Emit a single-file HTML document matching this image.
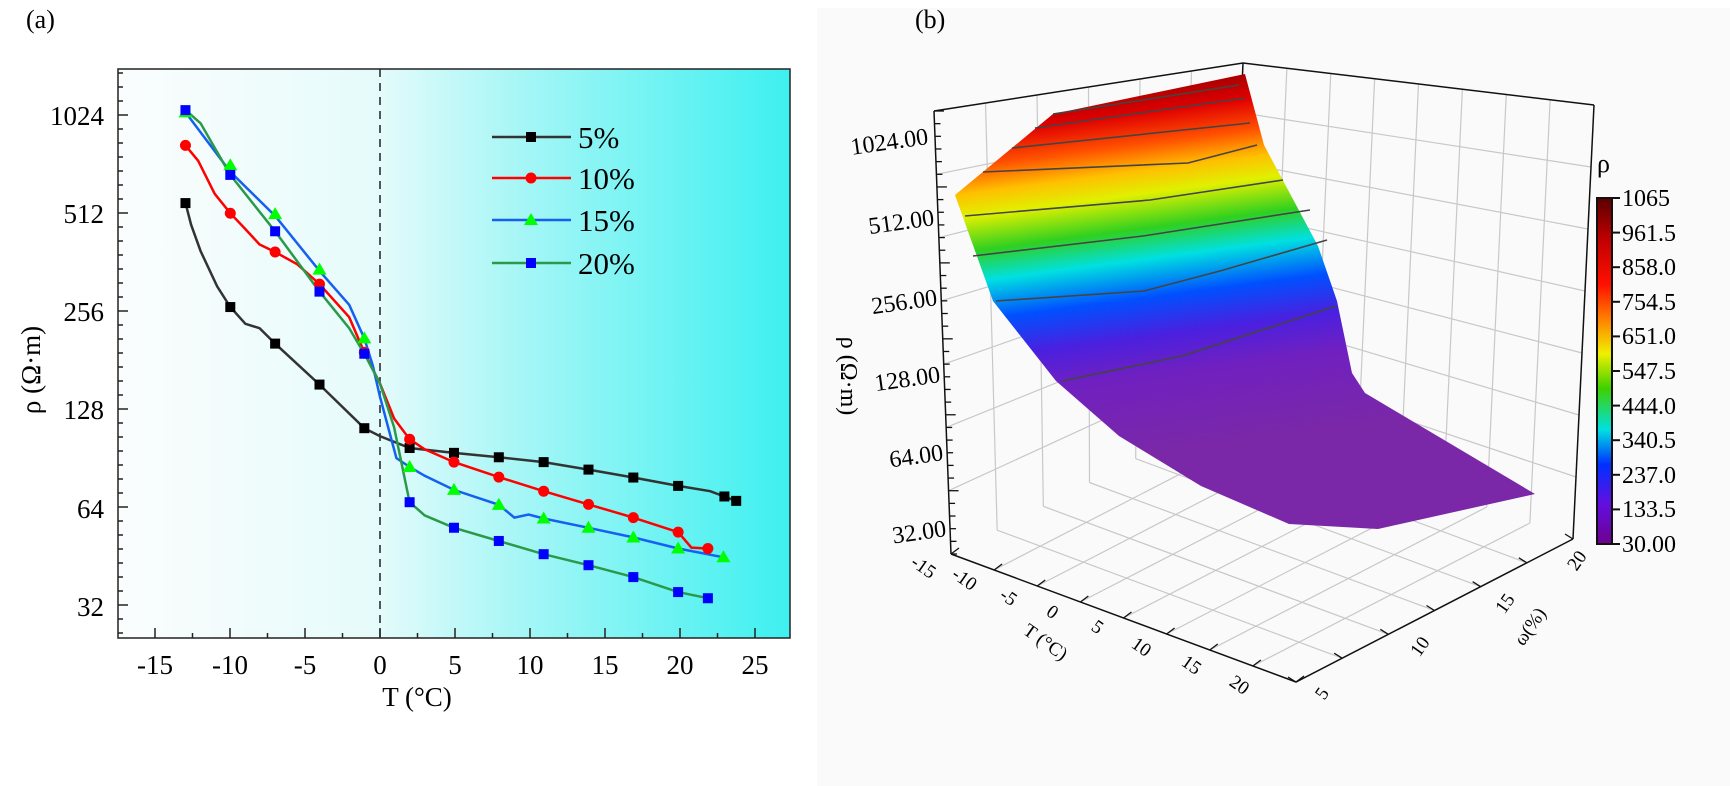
<!DOCTYPE html>
<html><head><meta charset="utf-8"><style>
html,body{margin:0;padding:0;background:#fff;}
svg{display:block;}
svg text{font-family:"Liberation Serif","Times New Roman",serif;}
</style></head><body>
<svg id="s" width="1730" height="786" viewBox="0 0 1730 786" xmlns="http://www.w3.org/2000/svg" font-family="Liberation Serif, serif">
<defs>
<linearGradient id="bg" x1="0" y1="0" x2="1" y2="0">
<stop offset="0" stop-color="#fbfdfd"/><stop offset="0.38" stop-color="#e6fbfb"/><stop offset="0.6" stop-color="#a6f6f6"/><stop offset="1" stop-color="#3ef0f0"/>
</linearGradient>
<linearGradient id="sg" gradientUnits="userSpaceOnUse" x1="1190" y1="60" x2="1240" y2="440">
<stop offset="0" stop-color="#7a0000"/><stop offset="0.12" stop-color="#e00000"/><stop offset="0.2" stop-color="#ff5000"/><stop offset="0.27" stop-color="#ffc000"/><stop offset="0.33" stop-color="#e0f000"/><stop offset="0.42" stop-color="#30d020"/><stop offset="0.5" stop-color="#00e0e0"/><stop offset="0.6" stop-color="#0050ff"/><stop offset="0.7" stop-color="#4a20e0"/><stop offset="0.8" stop-color="#7020c0"/><stop offset="1" stop-color="#7a28a8"/>
</linearGradient>
<linearGradient id="cb" x1="0" y1="0" x2="0" y2="1">
<stop offset="0" stop-color="#5a0000"/><stop offset="0.12" stop-color="#c00000"/><stop offset="0.25" stop-color="#ff1000"/><stop offset="0.35" stop-color="#ff8000"/><stop offset="0.45" stop-color="#f0f000"/><stop offset="0.55" stop-color="#40d000"/><stop offset="0.67" stop-color="#00e0e0"/><stop offset="0.77" stop-color="#0030ff"/><stop offset="0.88" stop-color="#6010e0"/><stop offset="1" stop-color="#700090"/>
</linearGradient>
</defs>
<!-- panel a -->
<text x="26" y="28" font-size="26" font-family="Liberation Serif, serif">(a)</text>
<rect x="118" y="69" width="672" height="569" fill="url(#bg)" stroke="#222" stroke-width="1.5"/>
<line x1="380" y1="69" x2="380" y2="638" stroke="#222" stroke-width="1.5" stroke-dasharray="8,6"/>
<g id="ticks" stroke="#222" stroke-width="1.5"></g>
<g font-size="27" text-anchor="end" font-family="Liberation Serif, serif">
<text x="104" y="125">1024</text><text x="104" y="223">512</text><text x="104" y="321">256</text><text x="104" y="419">128</text><text x="104" y="518">64</text><text x="104" y="616">32</text>
</g>
<g font-size="27" text-anchor="middle" font-family="Liberation Serif, serif">
<text x="155" y="674">-15</text><text x="230" y="674">-10</text><text x="305" y="674">-5</text><text x="380" y="674">0</text><text x="455" y="674">5</text><text x="530" y="674">10</text><text x="605" y="674">15</text><text x="680" y="674">20</text><text x="755" y="674">25</text>
<text x="417" y="706">T (°C)</text>
</g>
<text transform="translate(40,370) rotate(-90)" font-size="27" text-anchor="middle" font-family="Liberation Serif, serif">ρ (Ω·m)</text>
<g id="series"></g>
<g font-size="31" font-family="Liberation Serif, serif">
<line x1="492" y1="137" x2="571" y2="137" stroke="#333" stroke-width="2.5"/><rect x="526" y="132" width="10" height="10" fill="#000"/><text x="578" y="148">5%</text>
<line x1="492" y1="178" x2="571" y2="178" stroke="#f00" stroke-width="2.5"/><circle cx="531" cy="178" r="5.5" fill="#f00"/><text x="578" y="189">10%</text>
<line x1="492" y1="220" x2="571" y2="220" stroke="#1560f0" stroke-width="2.5"/><polygon points="531,213 538,225 524,225" fill="#0f0"/><text x="578" y="231">15%</text>
<line x1="492" y1="263" x2="571" y2="263" stroke="#2a9a4a" stroke-width="2.5"/><rect x="526" y="258" width="10" height="10" fill="#00f"/><text x="578" y="274">20%</text>
</g>
<!-- panel b -->
<rect x="817" y="8" width="913" height="778" fill="#fafafa"/>
<text x="915" y="28" font-size="26" font-family="Liberation Serif, serif">(b)</text>
<g id="grid3d" stroke="#c8c8c8" stroke-width="1.2" fill="none"></g>
<g stroke="#111" stroke-width="1.5" fill="none">
<polyline points="934,111 1243,63 1594,105"/>
<line x1="1243" y1="63" x2="1228" y2="411"/>
<line x1="1594" y1="105" x2="1573" y2="539"/>
</g>
<polygon points="955,195 1053,114 1245,74 1264,145 1318,246 1337,301 1352,373 1365,393 1535,494 1378,529 1289,524 1201,486 1119,436 1056,381 993,301" fill="url(#sg)"/>
<g stroke="#444" stroke-width="1.6" fill="none">
<polyline points="1053,114 1239,85"/>
<polyline points="1035,128 1245,98"/>
<polyline points="1012,148 1250,123"/>
<polyline points="983,172 1188,163 1257,145"/>
<polyline points="965,216 1150,200 1283,180"/>
<polyline points="973,256 1143,236 1310,210"/>
<polyline points="996,301 1144,291 1220,271 1327,240"/>
<polyline points="1062,381 1182,356 1336,306"/>
</g>
<g stroke="#111" stroke-width="1.5" fill="none">
<line x1="934" y1="111" x2="951" y2="554"/>
<polyline points="951,554 1296,682 1573,539"/>
</g>
<g id="ticks3d" stroke="#111" stroke-width="1.3"></g>
<g font-size="24" text-anchor="end" font-family="Liberation Serif, serif">
<text transform="translate(929,144) rotate(-8)">1024.00</text>
<text transform="translate(935,225) rotate(-8)">512.00</text>
<text transform="translate(938,305) rotate(-8)">256.00</text>
<text transform="translate(941,382) rotate(-8)">128.00</text>
<text transform="translate(944,460) rotate(-8)">64.00</text>
<text transform="translate(947,536) rotate(-8)">32.00</text>
</g>
<text transform="translate(841,376) rotate(90)" font-size="24" text-anchor="middle" font-family="Liberation Serif, serif">ρ (Ω·m)</text>
<g font-size="19" text-anchor="middle" font-family="Liberation Serif, serif">
<text transform="translate(920,572) rotate(35)">-15</text>
<text transform="translate(961,584) rotate(35)">-10</text>
<text transform="translate(1005,602) rotate(35)">-5</text>
<text transform="translate(1049,617) rotate(35)">0</text>
<text transform="translate(1094,632) rotate(35)">5</text>
<text transform="translate(1138,652) rotate(35)">10</text>
<text transform="translate(1188,670) rotate(35)">15</text>
<text transform="translate(1236,690) rotate(35)">20</text>
<text transform="translate(1042,647) rotate(35)">T (°C)</text>
<text transform="translate(1327,697) rotate(-55)">5</text>
<text transform="translate(1425,650) rotate(-55)">10</text>
<text transform="translate(1510,607) rotate(-55)">15</text>
<text transform="translate(1582,564) rotate(-55)">20</text>
<text transform="translate(1535,630) rotate(-55)">ω(%)</text>
</g>
<text x="1597" y="172" font-size="26" font-family="Liberation Serif, serif">ρ</text>
<rect x="1597" y="198" width="15" height="346" fill="url(#cb)" stroke="#111" stroke-width="2"/>
<g id="cbt" stroke="#111" stroke-width="2"></g>
<g font-size="24" font-family="Liberation Serif, serif">
<text x="1622" y="206">1065</text><text x="1622" y="241">961.5</text><text x="1622" y="275">858.0</text><text x="1622" y="310">754.5</text><text x="1622" y="344">651.0</text><text x="1622" y="379">547.5</text><text x="1622" y="414">444.0</text><text x="1622" y="448">340.5</text><text x="1622" y="483">237.0</text><text x="1622" y="517">133.5</text><text x="1622" y="552">30.00</text>
</g>
</svg>
<script>
var NS="http://www.w3.org/2000/svg";
function el(p,t,a){var e=document.createElementNS(NS,t);for(var k in a)e.setAttribute(k,a[k]);p.appendChild(e);return e;}
var tk=document.getElementById('ticks');
for(var T=-17.5;T<=27;T+=2.5){var x=380+15*T;if(x<=118||x>=790)continue;var L=(Math.abs(T%5)<0.01)?10:5;el(tk,'line',{x1:x,y1:638,x2:x,y2:638-L});}
for(var d=-1;d<=6;d++){for(var j=0;j<7;j++){var y=115+98*d-j*14;if(y<=69||y>=638)continue;el(tk,'line',{x1:118,y1:y,x2:118+(j==0?10:5),y2:y});}}
function m(X,Y){return [X/2.119,Y/2.27];}
function pts(a){var s=[];for(var i=0;i<a.length;i+=2){var p=m(a[i],a[i+1]);s.push(p[0].toFixed(1)+","+p[1].toFixed(1));}return s.join(" ");}
var g=document.getElementById('series');
var S=[
{c:"#333",l:[393,461,405,510,425,570,460,650,488,697,520,735,550,745,583,780,677,873,772,972,805,990,868,1017,962,1028,1057,1038,1152,1049,1247,1066,1342,1084,1437,1103,1505,1115,1535,1127,1560,1137],mk:"sq",mc:"#000",p:[393,461,488,697,583,780,677,873,772,972,868,1017,962,1028,1057,1038,1152,1049,1247,1066,1342,1084,1437,1103,1535,1127,1560,1137]},
{c:"#f00",l:[393,330,420,365,455,440,488,484,520,520,550,555,583,572,630,600,677,645,740,720,772,800,805,870,835,950,868,997,900,1020,962,1049,1057,1083,1152,1115,1247,1145,1342,1175,1437,1208,1465,1243,1500,1245],mk:"c",mc:"#f00",p:[393,330,488,484,583,572,677,645,772,800,868,997,962,1049,1057,1083,1152,1115,1247,1145,1342,1175,1437,1208,1500,1245]},
{c:"#1560f0",l:[393,255,488,390,583,490,677,615,740,692,772,768,790,830,805,900,840,1040,868,1060,900,1080,962,1112,1057,1146,1090,1175,1120,1168,1152,1177,1247,1198,1342,1220,1437,1245,1533,1265],mk:"t",mc:"#0f0",p:[393,255,488,375,583,486,677,612,772,768,868,1060,962,1112,1057,1146,1152,1177,1247,1198,1342,1220,1437,1245,1533,1265]},
{c:"#2a9a4a",l:[393,250,425,280,488,397,583,525,677,662,740,745,772,803,805,870,835,970,868,1140,900,1170,962,1198,1057,1228,1152,1258,1247,1283,1342,1310,1437,1344,1500,1358],mk:"sq",mc:"#00f",p:[393,250,488,397,583,525,677,662,772,803,868,1140,962,1198,1057,1228,1152,1258,1247,1283,1342,1310,1437,1344,1500,1358]}
];
S.forEach(function(s){el(g,'polyline',{points:pts(s.l),fill:"none",stroke:s.c,"stroke-width":2.5});});
S.forEach(function(s){for(var i=0;i<s.p.length;i+=2){var q=m(s.p[i],s.p[i+1]),x=q[0],y=q[1];
if(s.mk=="sq")el(g,'rect',{x:x-5,y:y-5,width:10,height:10,fill:s.mc});
else if(s.mk=="c")el(g,'circle',{cx:x,cy:y,r:5.5,fill:s.mc});
else el(g,'polygon',{points:(x)+","+(y-7)+" "+(x+7)+","+(y+5)+" "+(x-7)+","+(y+5),fill:s.mc});}});
var gr=document.getElementById('grid3d');
function lerp(a,b,t){return [a[0]+(b[0]-a[0])*t,a[1]+(b[1]-a[1])*t];}
var LB=[951,554],FR=[1296,682],RB=[1573,539],BK=[1228,411],LT=[934,111],BT=[1243,63],RT=[1594,105];
for(var i=1;i<8;i++){var t=i/8;var a=lerp(LB,FR,t),b=lerp(BK,RB,t);el(gr,'line',{x1:a[0],y1:a[1],x2:b[0],y2:b[1]});
 var c=lerp(BK,RB,t),d=lerp(BT,RT,t);el(gr,'line',{x1:c[0],y1:c[1],x2:d[0],y2:d[1]});}
for(var i=1;i<6;i++){var t=i/6;var a=lerp(FR,RB,t),b=lerp(LB,BK,t);el(gr,'line',{x1:a[0],y1:a[1],x2:b[0],y2:b[1]});
 var c=lerp(LB,BK,t),d=lerp(LT,BT,t);el(gr,'line',{x1:c[0],y1:c[1],x2:d[0],y2:d[1]});}
for(var i=1;i<7;i++){var t=i/7;var a=lerp(LB,LT,t),b=lerp(BK,BT,t),c=lerp(RB,RT,t);el(gr,'polyline',{points:a+" "+b+" "+c});}
var t3=document.getElementById('ticks3d');
for(var i=0;i<=8;i++){var a=lerp(LB,FR,i/8);el(t3,'line',{x1:a[0],y1:a[1],x2:a[0]+8,y2:a[1]-6});}
for(var i=0;i<=6;i++){var a=lerp(FR,RB,i/6);el(t3,'line',{x1:a[0],y1:a[1],x2:a[0]-8,y2:a[1]-5});}
for(var i=0;i<=35;i++){var a=lerp(LT,LB,i/35);el(t3,'line',{x1:a[0],y1:a[1],x2:a[0]+(i%6==0?10:6),y2:a[1]});}
var cb=document.getElementById('cbt');
for(var i=0;i<=10;i++){var y=198+i*34.6;el(cb,'line',{x1:1612,y1:y,x2:1620,y2:y});}
</script>
</body></html>
